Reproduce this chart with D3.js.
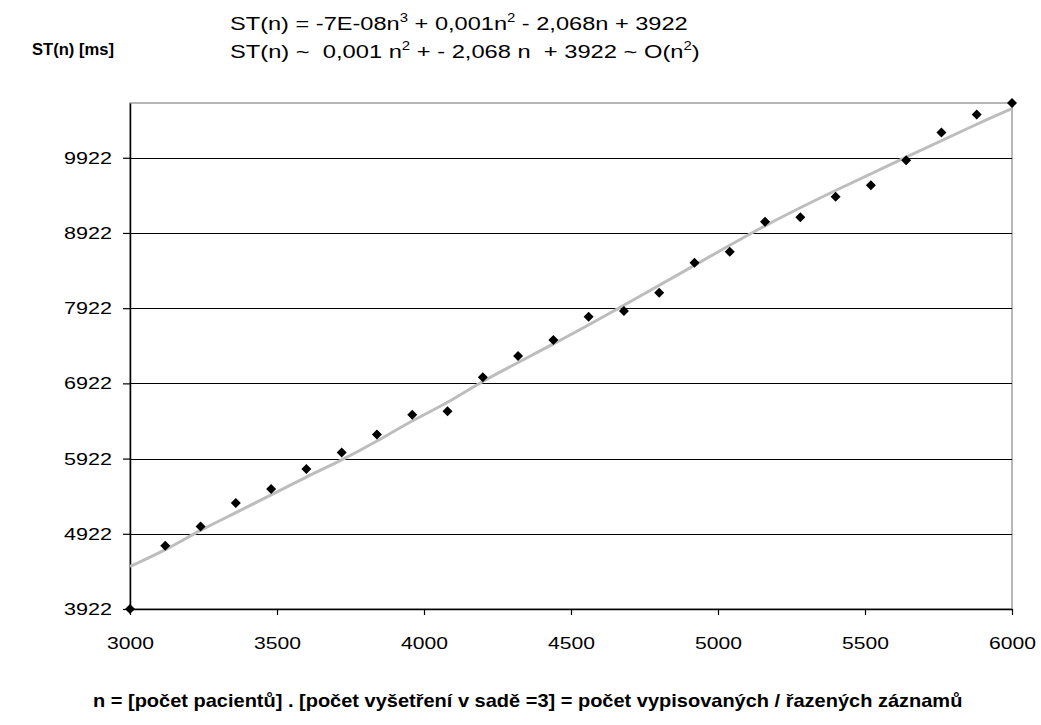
<!DOCTYPE html>
<html>
<head>
<meta charset="utf-8">
<script src="https://cdn.jsdelivr.net/npm/d3@7"></script>
<style>
  html, body { margin: 0; padding: 0; background: #fff; }
  svg { display: block; }
  text { font-family: "Liberation Sans", Arial, sans-serif; fill: #000; white-space: pre; }
</style>
</head>
<body>
<svg id="chart" width="1041" height="725"></svg>
<script>
// Number of sorted records n and measured sort time ST(n) in milliseconds
const nValues = [3000, 3120, 3240, 3360, 3480, 3600, 3720, 3840, 3960, 4080,
                 4200, 4320, 4440, 4560, 4680, 4800, 4920, 5040, 5160, 5280,
                 5400, 5520, 5640, 5760, 5880, 6000];
const stValues = [3922, 4763, 5019, 5330, 5516, 5785, 6002, 6241, 6506, 6551,
                  7003, 7286, 7498, 7808, 7883, 8127, 8525, 8671, 9070, 9132,
                  9402, 9557, 9889, 10257, 10496, 10650];

// Polynomial trend curve (order 3) of ST(n)
const trendN = [3000, 3120, 3240, 3360, 3480, 3600, 3720, 3840, 3960, 4080,
                4200, 4440, 4680, 4920, 5160, 5400, 5640, 5880, 6000];
const trendST = [4488, 4700, 4975, 5200, 5440, 5680, 5900, 6150, 6430, 6660,
                 6960, 7440, 7960, 8490, 9030, 9490, 9930, 10370, 10575];

const xTicks = [3000, 3500, 4000, 4500, 5000, 5500, 6000];
const yTicks = [3922, 4922, 5922, 6922, 7922, 8922, 9922];

const yLabel = "ST(n) [ms]";
const xLabel = "n = [počet pacientů] . [počet vyšetření v sadě =3] = počet vypisovaných / řazených záznamů";

const svg = d3.select("#chart");
const plot = { left: 130, right: 1012, top: 103, bottom: 609 };

const x = d3.scaleLinear().domain([3000, 6000]).range([plot.left, plot.right]);
const y = d3.scaleLinear().domain([3922, 10650]).range([plot.bottom, plot.top]);

// Stretch or squeeze a text element horizontally so it spans the wanted width
function fitWidth(node, anchorX, width) {
  const w = node.getBBox().width;
  const k = width / w;
  d3.select(node).attr("transform",
    `translate(${anchorX},0) scale(${k},1) translate(${-anchorX},0)`);
  return k;
}

// Plot frame: grey top/right border
svg.append("rect")
  .attr("x", plot.left).attr("y", plot.top)
  .attr("width", plot.right - plot.left).attr("height", plot.bottom - plot.top)
  .attr("fill", "#fff").attr("stroke", "#a0a0a0").attr("stroke-width", 1.5);

// Horizontal gridlines
svg.append("g").selectAll("line")
  .data(yTicks.slice(1))
  .join("line")
  .attr("x1", plot.left).attr("x2", plot.right)
  .attr("y1", d => Math.round(y(d)) + 0.5).attr("y2", d => Math.round(y(d)) + 0.5)
  .attr("stroke", "#000").attr("stroke-width", 1.2);

// Y axis
const yAxis = svg.append("g")
  .attr("transform", `translate(${plot.left},0)`)
  .call(d3.axisLeft(y).tickValues(yTicks).tickSize(7).tickSizeOuter(0)
    .tickPadding(11).tickFormat(d3.format("d")));
yAxis.select(".domain").attr("stroke", "#000").attr("stroke-width", 1.5);
yAxis.selectAll(".tick line").attr("stroke", "#000").attr("stroke-width", 1.2);
yAxis.selectAll(".tick text")
  .attr("font-size", 17).attr("font-family", "Liberation Sans, Arial, sans-serif")
  .attr("fill", "#000");

// X axis
const xAxis = svg.append("g")
  .attr("transform", `translate(0,${plot.bottom})`)
  .call(d3.axisBottom(x).tickValues(xTicks).tickSize(6).tickSizeOuter(0)
    .tickPadding(22).tickFormat(d3.format("d")));
xAxis.select(".domain").attr("stroke", "#000").attr("stroke-width", 1.5);
xAxis.selectAll(".tick line").attr("stroke", "#000").attr("stroke-width", 1.2);
xAxis.selectAll(".tick text")
  .attr("font-size", 17).attr("font-family", "Liberation Sans, Arial, sans-serif")
  .attr("fill", "#000");

// Fit the tick digits to their printed width
yAxis.selectAll(".tick text").each(function () {
  const w = this.getBBox().width;
  const k = 48 / w;
  const tx = -18;
  d3.select(this).attr("x", tx).attr("transform", `translate(${tx},0) scale(${k},1) translate(${-tx},0)`);
});
xAxis.selectAll(".tick text").each(function () {
  const w = this.getBBox().width;
  const k = 47 / w;
  d3.select(this).attr("transform", `scale(${k},1)`);
});

// Grey trend curve
svg.append("path")
  .datum(trendN.map((n, i) => [n, trendST[i]]))
  .attr("fill", "none")
  .attr("stroke", "#bdbdbd")
  .attr("stroke-width", 3)
  .attr("d", d3.line().curve(d3.curveBasis).x(d => x(d[0])).y(d => y(d[1])));

// Data markers: black diamonds
svg.append("g").selectAll("path")
  .data(nValues.map((n, i) => [n, stValues[i]]))
  .join("path")
  .attr("transform", d => `translate(${x(d[0])},${y(d[1])})`)
  .attr("d", "M0,-5L5,0L0,5L-5,0Z")
  .attr("fill", "#000");

// Axis titles and trend equations
const yTitle = svg.append("text")
  .attr("x", 32).attr("y", 55)
  .attr("font-size", 17).attr("font-weight", "bold")
  .text(yLabel);
fitWidth(yTitle.node(), 32, 82);

function equation(yPos, parts, width) {
  const t = svg.append("text").attr("x", 230).attr("y", yPos).attr("font-size", 19);
  let shift = 0;
  parts.forEach(p => {
    if (typeof p === "object") {
      t.append("tspan").attr("dy", -8 - shift).attr("font-size", 12).text(p.sup);
      shift = -8;
    } else {
      t.append("tspan").attr("dy", -shift).text(p);
      shift = 0;
    }
  });
  fitWidth(t.node(), 230, width);
}
equation(30, ["ST(n) = -7E-08n", { sup: "3" }, " + 0,001n", { sup: "2" }, " - 2,068n + 3922"], 458);
equation(58, ["ST(n) ~  0,001 n", { sup: "2" }, " + - 2,068 n  + 3922 ~ O(n", { sup: "2" }, ")"], 470);

const xTitle = svg.append("text")
  .attr("x", 93).attr("y", 707)
  .attr("font-size", 18).attr("font-weight", "bold")
  .text(xLabel);
fitWidth(xTitle.node(), 93, 870);
</script>
</body>
</html>
